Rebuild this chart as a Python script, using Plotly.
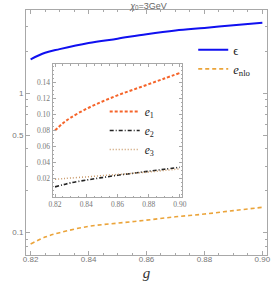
import plotly.graph_objects as go

# ---- data ----
g = [0.82, 0.825, 0.83, 0.84, 0.85, 0.86, 0.87, 0.88, 0.89, 0.90]
eps = [1.75, 1.95, 2.07, 2.29, 2.46, 2.65, 2.82, 2.94, 3.07, 3.20]
e_nlo = [0.083, 0.093, 0.100, 0.111, 0.117, 0.123, 0.130, 0.136, 0.144, 0.152]
e1 = [0.080, 0.089, 0.096, 0.107, 0.116, 0.124, 0.131, 0.138, 0.145, 0.152]
e2 = [0.0095, 0.012, 0.0145, 0.018, 0.021, 0.024, 0.0265, 0.029, 0.0315, 0.034]
e3 = [0.019, 0.0198, 0.0205, 0.022, 0.0235, 0.025, 0.0265, 0.028, 0.030, 0.032]

main_yticks = [0.1, 0.5, 1]
main_yticktext = ["0.1", "0.5", "1"]
main_yminor = [0.07, 0.08, 0.09, 0.2, 0.3, 0.4, 0.6, 0.7, 0.8, 0.9, 2, 3]
xticks = [0.82, 0.84, 0.86, 0.88, 0.90]
xticktext = ["0.82", "0.84", "0.86", "0.88", "0.90"]
inset_yticks = [0.02, 0.04, 0.06, 0.08, 0.10, 0.12, 0.14]
inset_yticktext = ["0.02", "0.04", "0.06", "0.08", "0.10", "0.12", "0.14"]

W, H = 275, 284
L, R, T, B = 26, 4, 10, 29
pw, ph = W - L - R, H - T - B

def px(x):
    return (x - L) / pw

def py(y):
    return (H - B - y) / ph

fig = go.Figure()

fig.add_trace(go.Scatter(x=g, y=eps, mode="lines", name="ϵ",
                         line=dict(color="#1010F0", width=2, shape="spline"),
                         xaxis="x", yaxis="y", legend="legend"))
fig.add_trace(go.Scatter(x=g, y=e_nlo, mode="lines", name="<i>e</i><sub>nlo</sub>",
                         line=dict(color="#EBA43A", width=1.6, dash="4px,3px", shape="spline"),
                         xaxis="x", yaxis="y", legend="legend"))

fig.add_trace(go.Scatter(x=g, y=e1, mode="lines", name="<i>e</i><sub>1</sub>",
                         line=dict(color="#F5642A", width=2, dash="3px,2px", shape="spline"),
                         xaxis="x2", yaxis="y2", legend="legend2"))
fig.add_trace(go.Scatter(x=g, y=e2, mode="lines", name="<i>e</i><sub>2</sub>",
                         line=dict(color="#222222", width=1.6, dash="4px,2px,1px,2px", shape="spline"),
                         xaxis="x2", yaxis="y2", legend="legend2"))
fig.add_trace(go.Scatter(x=g, y=e3, mode="lines", name="<i>e</i><sub>3</sub>",
                         line=dict(color="#C99A6A", width=1.5, dash="1px,2px", shape="spline"),
                         xaxis="x2", yaxis="y2", legend="legend2"))

axcol = "#A8A8A8"
tickfont_main = dict(family="Liberation Sans", size=8, color="#777777")
tickfont_inset = dict(family="Liberation Serif", size=7.5, color="#777777")

xrange_ = [0.8184, 0.9016]

fig.update_layout(
    width=W, height=H,
    margin=dict(l=L, r=R, t=T, b=B),
    paper_bgcolor="white", plot_bgcolor="white",
    showlegend=True,
    title=dict(text="<i>χ</i><sub>0</sub>=3GeV", x=0.54, xanchor="center",
               y=0.992, yanchor="top", pad=dict(t=0, b=0),
               font=dict(family="Liberation Sans", size=9, color="#666666")),
    xaxis=dict(domain=[0, 1], range=xrange_, showline=True, linecolor=axcol, linewidth=1,
               mirror="allticks", ticks="inside", ticklen=4, tickcolor=axcol,
               tickvals=xticks, ticktext=xticktext, tickfont=tickfont_main,
               ticklabelstandoff=-4,
               showgrid=False, zeroline=False, automargin=False,
               minor=dict(ticks="inside", ticklen=2, dtick=0.005, tick0=0.82, tickcolor=axcol),
               title=dict(text="<i>g</i>", font=dict(family="Liberation Serif", size=15, color="#333333"),
                          standoff=4)),
    yaxis=dict(domain=[0, 1], type="log", range=[-1.160, 0.5966], showline=True,
               linecolor=axcol, linewidth=1, mirror="allticks", ticks="inside", ticklen=4,
               tickcolor=axcol, tickvals=main_yticks, ticktext=main_yticktext,
               tickfont=tickfont_main, showgrid=False, zeroline=False, automargin=False,
               minor=dict(ticks="inside", ticklen=2, tickvals=main_yminor, tickcolor=axcol)),
    xaxis2=dict(domain=[px(53), px(185)], anchor="y2", range=xrange_, showline=True,
                linecolor=axcol, linewidth=1, mirror="allticks", ticks="inside", ticklen=3,
                tickcolor=axcol, tickvals=xticks, ticktext=xticktext, tickfont=tickfont_inset,
                showgrid=False, zeroline=False,
                minor=dict(ticks="inside", ticklen=1.5, dtick=0.005, tick0=0.82, tickcolor=axcol)),
    yaxis2=dict(domain=[py(197), py(64)], anchor="x2", range=[-0.0032, 0.1632], showline=True,
                linecolor=axcol, linewidth=1, mirror="allticks", ticks="inside", ticklen=3,
                tickcolor=axcol, tickvals=inset_yticks, ticktext=inset_yticktext,
                tickfont=tickfont_inset, showgrid=False, zeroline=False,
                minor=dict(ticks="inside", ticklen=1.5, dtick=0.005, tick0=0, tickcolor=axcol)),
    legend=dict(x=px(196), y=py(35), xanchor="left", yanchor="top", bgcolor="rgba(0,0,0,0)",
                font=dict(family="Liberation Serif", size=12.5, color="#222222"),
                itemwidth=30, tracegroupgap=0),
    legend2=dict(x=px(106), y=py(97), xanchor="left", yanchor="top", bgcolor="rgba(0,0,0,0)",
                 font=dict(family="Liberation Serif", size=11.5, color="#222222"),
                 itemwidth=30, tracegroupgap=0),
)

fig.write_html("out.html", config={"displayModeBar": False},
               post_script="document.body.style.margin='0';document.body.style.padding='0';")
